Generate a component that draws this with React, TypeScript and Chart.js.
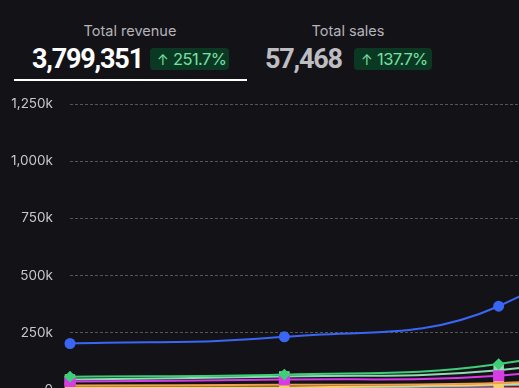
import React, { useEffect, useRef } from "react";
import { Chart, registerables } from "chart.js";

Chart.register(...registerables);

const periods = ["P1", "P2", "P3", "P4"];
const blueSeries = [203000, 232000, 366000, 1050000];
const greenSeries = [58000, 67000, 113000, 330000];
const magentaSeries = [37000, 45000, 62000, 170000];
const mintSeries = [46000, 59000, 86000, 230000];
const orangeSeries = [19000, 22000, 30000, 80000];
const yellowSeries = [11000, 11000, 24000, 60000];
const skySeries = [7000, 7000, 19000, 45000];
const redSeries = [4000, 5000, 8000, 25000];
const yTicks = [0, 250000, 500000, 750000, 1000000, 1250000];

const FONT = "Inter, 'Noto Sans', sans-serif";
const NUM_FONT = "Roboto, Inter, sans-serif";

function fmtK(v: number) {
  const k = Math.round(v / 1000);
  if (k === 0) return "0";
  return k.toLocaleString("en-US") + "k";
}

export default function App() {
  const ref = useRef<HTMLCanvasElement | null>(null);

  useEffect(() => {
    if (!ref.current) return;
    const mk = (
      label: string,
      data: number[],
      color: string,
      pointStyle: any,
      radius: number
    ) => ({
      label,
      data,
      borderColor: color,
      backgroundColor: color,
      pointBackgroundColor: color,
      pointBorderColor: color,
      pointStyle,
      pointRadius: radius,
      borderWidth: 2,
      tension: 0.4,
      fill: false,
    });
    const chart = new Chart(ref.current, {
      type: "line",
      data: {
        labels: periods,
        datasets: [
          mk("Blue", blueSeries, "#3a66f5", "circle", 4.5),
          mk("Green", greenSeries, "#3fce78", "rectRot", 4.5),
          mk("Magenta", magentaSeries, "#d93be8", "rect", 6.5),
          mk("Mint", mintSeries, "#8fdcb4", "rect", 6),
          mk("Orange", orangeSeries, "#f0a04a", "circle", 0),
          mk("Yellow", yellowSeries, "#f6d074", "rect", 6),
          mk("Sky", skySeries, "#3fb2ea", "circle", 0),
          mk("Red", redSeries, "#ee5a5a", "circle", 0),
        ],
      },
      options: {
        animation: false,
        responsive: false,
        maintainAspectRatio: false,
        layout: { padding: { top: 0, right: 27, bottom: 0, left: 0 } },
        plugins: { legend: { display: false }, tooltip: { enabled: false } },
        scales: {
          x: { display: false, offset: false },
          y: {
            min: 0,
            max: 1250000,
            afterFit: (s: any) => {
              s.width = 70;
            },
            afterBuildTicks: (s: any) => {
              s.ticks = yTicks.map((v) => ({ value: v }));
            },
            border: { display: false, dash: [3, 2] },
            grid: {
              color: "#54545b",
              drawTicks: false,
            },
            ticks: {
              padding: 17,
              color: "#c6c6cc",
              font: { family: FONT, size: 13.5 },
              callback: (v: any) => fmtK(Number(v)),
            },
          } as any,
        },
      },
    });
    return () => chart.destroy();
  }, []);

  const label: React.CSSProperties = {
    position: "absolute",
    fontFamily: FONT,
    fontSize: 14.5,
    lineHeight: "15px",
    color: "#b4b4ba",
    textAlign: "center",
    whiteSpace: "nowrap",
  };
  const big: React.CSSProperties = {
    position: "absolute",
    fontFamily: NUM_FONT,
    fontSize: 27,
    fontWeight: 700,
    lineHeight: "27px",
    letterSpacing: "-1.2px",
    whiteSpace: "nowrap",
  };
  const badge: React.CSSProperties = {
    position: "absolute",
    top: 48,
    height: 22,
    borderRadius: 4,
    background: "#0b3823",
    color: "#76e0a2",
    fontFamily: FONT,
    fontSize: 16.5,
    lineHeight: "22px",
    letterSpacing: "-0.6px",
    boxSizing: "border-box",
    paddingLeft: 7,
    whiteSpace: "nowrap",
  };

  return (
    <div
      style={{
        position: "fixed",
        left: 0,
        top: 0,
        width: 519,
        height: 388,
        overflow: "hidden",
        background: "#131317",
      }}
    >
      <div style={{ ...label, left: 30, top: 23, width: 200 }}>Total revenue</div>
      <div style={{ ...big, left: 32, top: 46, color: "#ffffff" }}>3,799,351</div>
      <div style={{ ...badge, left: 150, width: 79 }}>
        <span style={{ fontSize: 14, marginRight: 5 }}>↑</span>251.7%
      </div>
      <div
        style={{
          position: "absolute",
          left: 14,
          top: 79,
          width: 233,
          height: 2,
          background: "#ffffff",
        }}
      />
      <div style={{ ...label, left: 248, top: 23, width: 200 }}>Total sales</div>
      <div style={{ ...big, left: 265, top: 46, color: "#bdbdc2" }}>57,468</div>
      <div style={{ ...badge, left: 354, width: 78 }}>
        <span style={{ fontSize: 14, marginRight: 5 }}>↑</span>137.7%
      </div>
      <div
        style={{
          position: "absolute",
          left: 0,
          top: 79,
          width: 740,
          height: 336,
        }}
      >
        <canvas ref={ref} width={740} height={336} style={{ width: 740, height: 336 }} />
      </div>
    </div>
  );
}
